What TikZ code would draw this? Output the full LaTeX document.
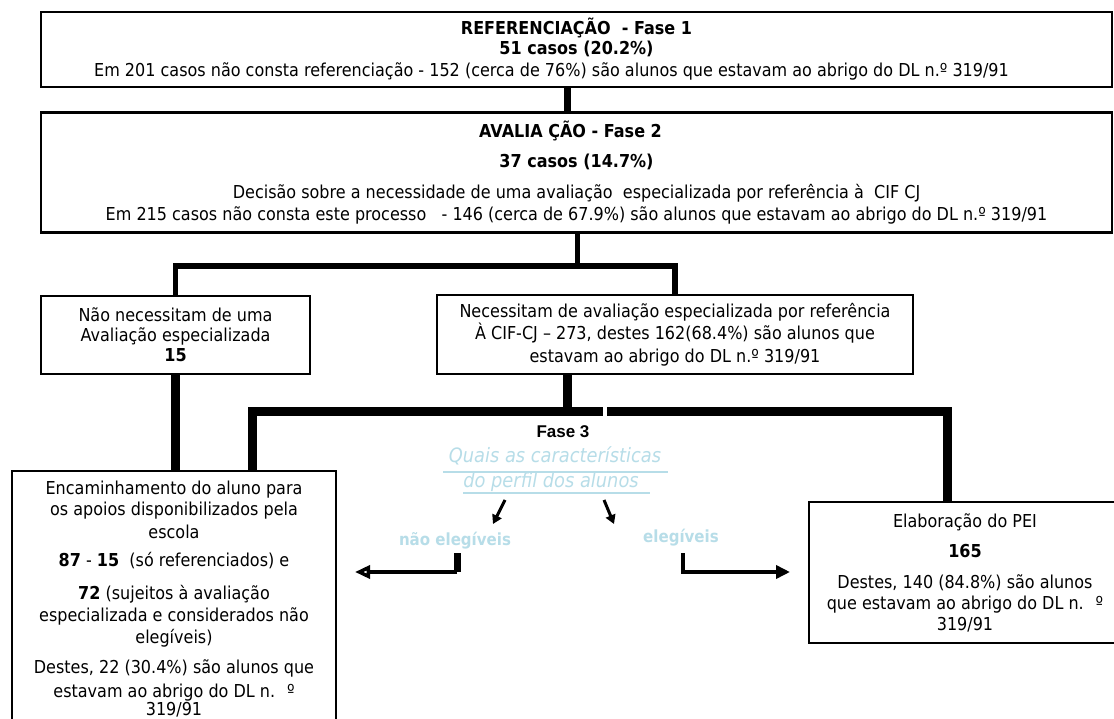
\documentclass[tikz,border=0pt]{standalone}
\usepackage{fontspec}
\setmainfont{DejaVu Sans}[FakeStretch=0.9]
\newfontfamily\arialfont{Liberation Sans}
\usetikzlibrary{arrows.meta}
\definecolor{azulclaro}{RGB}{183,221,232}

\begin{document}
\begin{tikzpicture}[x=1pt,y=-1pt,
    caixa/.style={draw,line width=2.4pt,align=center,inner sep=0pt,
      font=\fontsize{17.8}{22}\selectfont},
    elo/.style={line width=#1,line join=miter},
    pergunta/.style={text=azulclaro,inner sep=0pt,
      font=\fontsize{19.8}{22}\selectfont\itshape},
    rotulo/.style={text=azulclaro,inner sep=0pt,
      font=\fontsize{16.7}{20}\selectfont\bfseries},
    seta/.style={line width=3pt,-{Triangle[length=9pt,width=10pt]}}]

  \useasboundingbox[fill=white] (0,0) rectangle (1114,719);

  % fases 1 e 2
  \node[caixa,minimum width=1071,minimum height=75] (ref) at (576.5,49.5)
    {\textbf{REFERENCIAÇÃO \ - Fase 1}\\[-2pt]
     \textbf{51 casos (20.2\%)}\hspace*{30pt}\\[0pt]
     Em 201 casos não consta referenciação - 152 (cerca de 76\%) são alunos que estavam ao abrigo do DL n.º 319/91\hspace*{50pt}};
  \node[caixa,minimum width=1071,minimum height=120] (aval) at (576.5,172.5)
    {\textbf{AVALIA ÇÃO - Fase 2}\hspace*{12pt}\\[8pt]
     \textbf{37 casos (14.7\%)}\hspace*{26pt}\\[9pt]
     Decisão sobre a necessidade de uma avaliação \ especializada por referência à \ CIF CJ\\[0pt]
     Em 215 casos não consta este processo \ \ - 146 (cerca de 67.9\%) são alunos que estavam ao abrigo do DL n.º 319/91};

  \node[caixa,minimum width=269,minimum height=78] (nao) at (175.5,335)
    {Não necessitam de uma\\[-2pt]
     Avaliação especializada\\[-2pt]
     \textbf{15}};
  \node[caixa,minimum width=476,minimum height=79] (sim) at (675,334.5)
    {Necessitam de avaliação especializada por referência\\[0pt]
     À CIF-CJ – 273, destes 162(68.4\%) são alunos que\\[1pt]
     estavam ao abrigo do DL n.º 319/91};

  % fase 3
  \node[caixa,minimum width=324,inner ysep=10pt,anchor=north] (enc) at (174,470)
    {Encaminhamento do aluno para\\[-1pt]
     os apoios disponibilizados pela\\[1pt]
     escola\\[6pt]
     \textbf{87} - \textbf{15} \ (só referenciados) e\\[11pt]
     \textbf{72} (sujeitos à avaliação\\
     especializada e considerados não\\
     elegíveis)\\[8pt]
     Destes, 22 (30.4\%) são alunos que\\[2pt]
     estavam ao abrigo do DL n. \ º\\[-4pt]
     319/91\\[10pt]};
  \node[caixa,minimum width=312,minimum height=141] (pei) at (965,572.5)
    {Elaboração do PEI\\[8pt]
     \textbf{165}\\[9pt]
     Destes, 140 (84.8\%) são alunos\\[-1pt]
     que estavam ao abrigo do DL n. \ º\\[-1pt]
     319/91};

  \coordinate (e1) at (567,100);
  \coordinate (n2) at (577,266);
  \coordinate (n3) at (567,411);
  \coordinate (e5) at (252,411);
  \coordinate (e6) at (947,411);
  \coordinate (g1) at (603,411);
  \coordinate (g2) at (607,411);

  \draw[elo=7pt] (ref.south -| e1) -- (aval.north -| e1);
  \draw[elo=5pt] (aval.south -| n2) -- (n2);
  \draw[elo=5.5pt] (nao.north) |- (n2) -| (sim.north);
  \draw[elo=9pt] (sim.south -| n3) -- (n3);
  \draw[elo=9pt] (enc.north -| e5) |- (g1);
  \draw[elo=9pt] (g2) -| (pei.north -| e6);
  \draw[elo=9pt] (nao.south) -- (nao.south |- enc.north);

  \node[font=\fontsize{17}{20}\selectfont\arialfont\bfseries] (fase3) at (563,432) {Fase 3};
  \node[pergunta] (q1) at (555,456) {Quais as características};
  \node[pergunta] (q2) at (551,482) {do perfil dos alunos};
  \draw[azulclaro,line width=2.5pt] (443,472) -- (668,472);
  \draw[azulclaro,line width=2.5pt] (463,493) -- (650,493);

  \draw[seta] (505,500) -- (493,524);
  \draw[seta] (604,500) -- (614,524);

  \node[rotulo] (ne) at (455,541) {não elegíveis};
  \node[rotulo] (el) at (681,538) {elegíveis};

  \coordinate (cne) at (457,553);
  \coordinate (fne) at (355,572);
  \coordinate (cel) at (683,553);
  \coordinate (fel) at (790,572);
  \draw[elo=7pt] (cne) -- (cne |- fne);
  \draw[elo=3.5pt,-{Triangle[open,length=15pt,width=13pt]}] (cne |- fne) -- (fne);
  \draw[elo=3.5pt,-{Triangle[length=14pt,width=13pt]}] (cel) |- (fel);
\end{tikzpicture}
\end{document}
